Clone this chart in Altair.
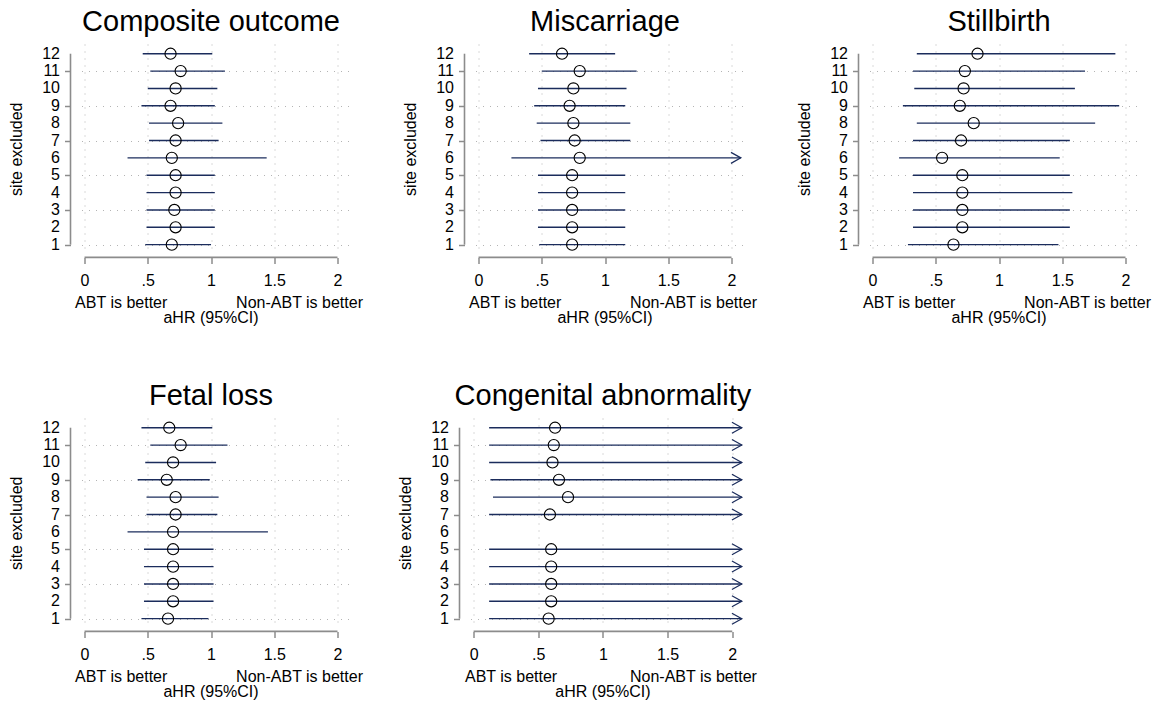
import altair as alt
import pandas as pd

# ---------------- data ----------------
sites = list(range(1, 13))                      # site excluded
site_labels = [str(s) for s in sites]
x_ticks = [0, 0.5, 1, 1.5, 2]
x_tick_labels = ["0", ".5", "1", "1.5", "2"]

panel_titles = ["Composite outcome", "Miscarriage", "Stillbirth",
                "Fetal loss", "Congenital abnormality"]

# values listed for site excluded = 1 .. 12 ; None = not estimable / beyond axis
composite_est = [0.69, 0.72, 0.71, 0.72, 0.72, 0.69, 0.72, 0.74, 0.68, 0.72, 0.76, 0.68]
composite_lo  = [0.48, 0.49, 0.49, 0.49, 0.49, 0.34, 0.51, 0.51, 0.45, 0.50, 0.52, 0.46]
composite_hi  = [1.00, 1.03, 1.03, 1.03, 1.03, 1.44, 1.06, 1.09, 1.03, 1.05, 1.11, 1.01]

miscarriage_est = [0.74, 0.74, 0.74, 0.74, 0.74, 0.80, 0.76, 0.75, 0.72, 0.75, 0.80, 0.66]
miscarriage_lo  = [0.48, 0.47, 0.47, 0.47, 0.47, 0.26, 0.49, 0.46, 0.44, 0.47, 0.50, 0.40]
miscarriage_hi  = [1.16, 1.16, 1.16, 1.16, 1.16, None, 1.20, 1.20, 1.16, 1.17, 1.25, 1.08]

stillbirth_est = [0.64, 0.71, 0.71, 0.71, 0.71, 0.55, 0.70, 0.80, 0.69, 0.72, 0.73, 0.83]
stillbirth_lo  = [0.28, 0.32, 0.32, 0.32, 0.32, 0.21, 0.32, 0.35, 0.24, 0.33, 0.32, 0.35]
stillbirth_hi  = [1.47, 1.56, 1.56, 1.58, 1.56, 1.48, 1.56, 1.76, 1.95, 1.60, 1.68, 1.92]

fetal_est = [0.66, 0.70, 0.70, 0.70, 0.70, 0.70, 0.72, 0.72, 0.65, 0.70, 0.76, 0.67]
fetal_lo  = [0.45, 0.47, 0.47, 0.47, 0.47, 0.34, 0.49, 0.49, 0.42, 0.48, 0.52, 0.45]
fetal_hi  = [0.98, 1.02, 1.02, 1.02, 1.02, 1.45, 1.05, 1.06, 0.99, 1.04, 1.13, 1.01]

congenital_est = [0.58, 0.60, 0.60, 0.60, 0.60, None, 0.59, 0.73, 0.66, 0.61, 0.62, 0.63]
congenital_lo  = [0.12, 0.12, 0.12, 0.12, 0.12, None, 0.12, 0.15, 0.13, 0.12, 0.12, 0.12]
congenital_hi  = [None, None, None, None, None, None, None, None, None, None, None, None]

side_labels = ["ABT is better", "Non-ABT is better"]
side_label_x = [0.29, 1.70]
x_title = "aHR (95%CI)"
y_title = "site excluded"

# ---------------- style ----------------
FONT = "Liberation Sans"
NAVY = "#1b2c5c"
AXIS_GRAY = "#8c8c8c"
GRID_GRAY = "#b4b4b4"
X_VIEW = [-0.024, 2.087]
Y_VIEW = [0.75, 12.56]
ARROW_TIP = 2.074
W, W_WIDE, H = 267, 273, 205
Y_AXIS_OFFSET = 11
TICK = 6


def make_panel(title, est, lo, hi, width, height):
    recs = []
    for s, e, l, h in zip(sites, est, lo, hi):
        if e is None:
            continue
        clipped = (h is None) or (h > ARROW_TIP)
        recs.append({"site": s, "est": e, "lo": l,
                     "hi": ARROW_TIP if clipped else h, "clipped": clipped})
    df = pd.DataFrame(recs)

    xscale = alt.Scale(domain=X_VIEW, nice=False, zero=False)
    yscale = alt.Scale(domain=Y_VIEW, nice=False, zero=False)
    label_expr = " : ".join(f"datum.value == {v} ? '{t}'"
                            for v, t in zip(x_ticks, x_tick_labels)) + " : ''"

    x_axis = alt.Axis(values=x_ticks, labelExpr=label_expr, domain=False,
                      grid=True, gridDash=[1, 6], gridColor=GRID_GRAY, gridWidth=1,
                      ticks=True, tickSize=TICK, tickColor=AXIS_GRAY, tickWidth=1.5,
                      offset=8.4, labelPadding=9, labelFontSize=16, labelFont=FONT,
                      labelColor="black", labelFlush=False, labelOverlap=False,
                      title=None)
    y_axis = alt.Axis(values=sites, domain=False, labels=False,
                      grid=True, gridDash=[1, 6], gridColor=GRID_GRAY, gridWidth=1,
                      ticks=True, tickSize=TICK, tickColor=AXIS_GRAY, tickWidth=1.5,
                      offset=Y_AXIS_OFFSET, title=None)

    base = alt.Chart(df)
    ci = base.mark_rule(color=NAVY, strokeWidth=1.4).encode(
        x=alt.X("lo:Q", scale=xscale, axis=x_axis, title=None),
        x2="hi:Q",
        y=alt.Y("site:Q", scale=yscale, axis=y_axis, title=None),
    )
    pts = base.mark_point(shape="circle", filled=False, color="black", size=125,
                          strokeWidth=1.1, opacity=1).encode(
        x=alt.X("est:Q", scale=xscale, title=None),
        y=alt.Y("site:Q", scale=yscale, title=None),
    )
    arrows = base.transform_filter("datum.clipped").mark_point(
        shape="M -1.8 -1 L 0 0 L -1.8 1", filled=False, color=NAVY, size=121,
        strokeWidth=1.2, opacity=1).encode(
        x=alt.X("hi:Q", scale=xscale, title=None),
        y=alt.Y("site:Q", scale=yscale, title=None),
    )
    yline = alt.Chart(pd.DataFrame({"a": [min(sites)], "b": [max(sites)]})).mark_rule(
        color=AXIS_GRAY, strokeWidth=1.6).encode(
        y=alt.Y("a:Q", scale=yscale, title=None), y2="b:Q", x=alt.value(-Y_AXIS_OFFSET))
    xline = alt.Chart(pd.DataFrame({"a": [x_ticks[0]], "b": [x_ticks[-1]]})).mark_rule(
        color=AXIS_GRAY, strokeWidth=1.6).encode(
        x=alt.X("a:Q", scale=xscale, title=None), x2="b:Q", y=alt.value(height + 8.4))
    ylabels = alt.Chart(pd.DataFrame({"site": sites, "label": site_labels})).mark_text(
        font=FONT, fontSize=16, baseline="middle", align="right", color="black").encode(
        y=alt.Y("site:Q", scale=yscale, title=None),
        x=alt.value(-(Y_AXIS_OFFSET + TICK + 4.5)), text="label:N")
    ytitle = alt.Chart(pd.DataFrame({"label": [y_title],
                                     "y": [(min(sites) + max(sites)) / 2]})).mark_text(
        font=FONT, fontSize=16, baseline="middle", align="center", angle=270,
        color="black").encode(
        y=alt.Y("y:Q", scale=yscale, title=None), x=alt.value(-64.3), text="label:N")
    side = alt.Chart(pd.DataFrame({"label": side_labels, "x": side_label_x})).mark_text(
        font=FONT, fontSize=16, baseline="alphabetic", align="center", color="black").encode(
        x=alt.X("x:Q", scale=xscale, title=None), y=alt.value(height + 59), text="label:N")
    xt = alt.Chart(pd.DataFrame({"label": [x_title], "x": [1.0]})).mark_text(
        font=FONT, fontSize=16, baseline="alphabetic", align="center", color="black").encode(
        x=alt.X("x:Q", scale=xscale, title=None), y=alt.value(height + 74), text="label:N")
    ttl = alt.Chart(pd.DataFrame({"label": [title], "x": [1.0]})).mark_text(
        font=FONT, fontSize=29, baseline="alphabetic", align="center", color="black").encode(
        x=alt.X("x:Q", scale=xscale, title=None), y=alt.value(-13.3), text="label:N")

    return alt.layer(ci, pts, arrows, yline, xline, ylabels, ytitle, side, xt, ttl).properties(
        width=width, height=height)


p1 = make_panel(panel_titles[0], composite_est, composite_lo, composite_hi, W, H)
p2 = make_panel(panel_titles[1], miscarriage_est, miscarriage_lo, miscarriage_hi, W, H)
p3 = make_panel(panel_titles[2], stillbirth_est, stillbirth_lo, stillbirth_hi, W, H)
p4 = make_panel(panel_titles[3], fetal_est, fetal_lo, fetal_hi, W, H)
p5 = make_panel(panel_titles[4], congenital_est, congenital_lo, congenital_hi, W_WIDE, H)

row1 = alt.hconcat(p1, p2, p3, spacing=39)
row2 = alt.hconcat(p4, p5, spacing=34)
chart = alt.vconcat(row1, row2, spacing=55).properties(
    padding={"left": 8.5, "top": 7, "right": 5, "bottom": 5},
    background="white",
).configure(font=FONT).configure_view(stroke=None)

chart.save("out.html", embed_options={"renderer": "svg", "actions": False})
